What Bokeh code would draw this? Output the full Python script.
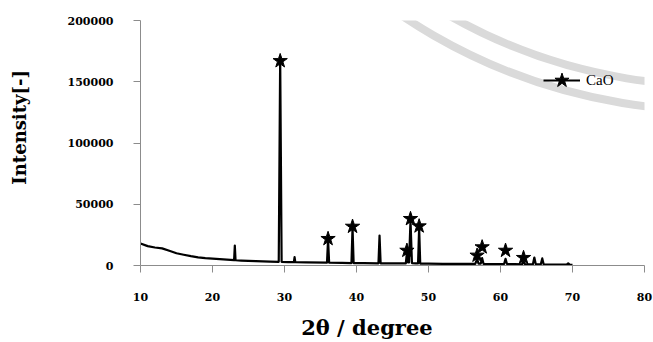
import math
from bokeh.plotting import figure
from bokeh.models import (FixedTicker, BasicTickFormatter, Legend, LegendItem,
                          Range1d, ColumnDataSource)
from bokeh.embed import file_html
from bokeh.resources import INLINE

# ---- data ----
TWO_THETA = [10.0, 11.0, 12.0, 13.0, 14.0, 15.0, 16.0, 17.0, 18.0, 19.0,
             20.0, 21.0, 22.0, 23.0, 23.1, 23.2, 24.0, 25.0, 26.0, 27.0,
             28.0, 29.2, 29.4, 29.6, 30.5, 31.3, 31.4, 31.5, 33.0, 35.9,
             36.05, 36.2, 38.0, 39.3, 39.45, 39.6, 41.0, 43.05, 43.2, 43.35,
             45.0, 46.85, 47.0, 47.15, 47.3, 47.5, 47.7, 48.2, 48.55, 48.7,
             48.85, 50.0, 52.0, 54.0, 56.5, 56.75, 56.95, 57.25, 57.45, 57.65,
             59.0, 60.5, 60.7, 60.9, 62.0, 63.0, 63.2, 63.4, 64.5, 64.7,
             64.9, 65.6, 65.8, 66.0, 67.0, 68.0, 69.2, 69.4, 69.6, 70.0]
INTENSITY = [18000, 15800, 14700, 14000, 12000, 10000, 8800, 7600, 6600, 6000,
             5600, 5200, 4800, 4400, 16300, 4300, 4000, 3700, 3500, 3300,
             3150, 3000, 170000, 3000, 2800, 2700, 6800, 2700, 2500, 2300,
             21000, 2300, 2100, 2000, 31000, 2000, 1900, 1800, 24500, 1800,
             1700, 1700, 10500, 2500, 2500, 37000, 2000, 1800, 1700, 31000,
             1600, 1500, 1400, 1300, 1300, 5500, 1500, 1500, 6000, 1300,
             1200, 1200, 5500, 1200, 1100, 1000, 3000, 1000, 1000, 6500,
             1000, 1000, 5800, 900, 800, 800, 800, 1800, 700, 600]

CAO_X = [29.4, 36.05, 39.45, 47.0, 47.5, 48.7, 56.75, 57.45, 60.7, 63.2]
CAO_Y = [167000, 21800, 31800, 12200, 38100, 32100, 8200, 15000, 12200, 6300]

X_TICKS = [10, 20, 30, 40, 50, 60, 70, 80]
Y_TICKS = [0, 50000, 100000, 150000, 200000]

X_TITLE = "2θ / degree"
Y_TITLE = "Intensity[-]"

# faint seal watermark in the top-right (two concentric rings)
SEAL_CENTER = (89.6, 583700)
SEAL_RADII_PX = [560, 535]

FONT = "DejaVu Serif"
NBSP = "\u00a0"

p = figure(width=653, height=342, output_backend="svg", toolbar_location=None,
           x_range=Range1d(10, 80), y_range=Range1d(0, 200000),
           min_border_left=140, min_border_right=9, min_border_top=20,
           min_border_bottom=77)
p.outline_line_color = None
p.xgrid.visible = False
p.ygrid.visible = False
p.background_fill_color = "white"
p.border_fill_color = "white"

p.arc(x=[SEAL_CENTER[0]] * 2, y=[SEAL_CENTER[1]] * 2, radius=SEAL_RADII_PX,
      radius_units="screen", start_angle=math.radians(-160),
      end_angle=math.radians(-80), direction="anticlock",
      line_color="#dadada", line_width=8)

for ax in (p.xaxis[0], p.yaxis[0]):
    ax.axis_line_color = "#8c8c8c"
    ax.major_tick_line_color = "#8c8c8c"
    ax.major_tick_out = 7
    ax.major_tick_in = 0
    ax.minor_tick_line_color = None
    ax.major_label_text_font = FONT
    ax.major_label_text_font_style = "bold"
    ax.major_label_text_font_size = "11px"
    ax.major_label_text_color = "black"
    ax.major_label_text_line_height = 1.0
    ax.axis_label_text_font = FONT
    ax.axis_label_text_font_style = "bold"
    ax.axis_label_text_color = "black"
    ax.axis_label_text_line_height = 1.0

p.xaxis.ticker = FixedTicker(ticks=X_TICKS)
p.yaxis.ticker = FixedTicker(ticks=Y_TICKS)
p.yaxis.formatter = BasicTickFormatter(use_scientific=False)
p.xaxis.major_label_standoff = 20
p.yaxis.major_label_standoff = 20

# titles (non-breaking spaces nudge them off the frame centre, as in the source)
p.xaxis.axis_label = X_TITLE + NBSP * 7
p.xaxis.axis_label_text_font_size = "21px"
p.xaxis.axis_label_standoff = 11
p.yaxis.axis_label = NBSP * 5 + Y_TITLE
p.yaxis.axis_label_text_font_size = "18px"
p.yaxis.axis_label_standoff = 35

src = ColumnDataSource(dict(x=TWO_THETA, y=INTENSITY))
xrd = p.line("x", "y", source=src, line_color="black", line_width=2.2,
             line_join="round")

stars = p.scatter(CAO_X, CAO_Y, marker="star", size=15, fill_color="black",
                  line_color="black")

legend = Legend(items=[LegendItem(label="CaO", renderers=[xrd, stars])],
                location=(403, 166), orientation="vertical",
                border_line_color=None, background_fill_alpha=0,
                padding=0, margin=0, glyph_width=37, glyph_height=38,
                label_standoff=6, label_text_font="Liberation Serif",
                label_text_color="black",
                label_text_font_size="15px", label_height=38)
p.add_layout(legend, "center")

open("out.html", "w").write(file_html(p, INLINE))
